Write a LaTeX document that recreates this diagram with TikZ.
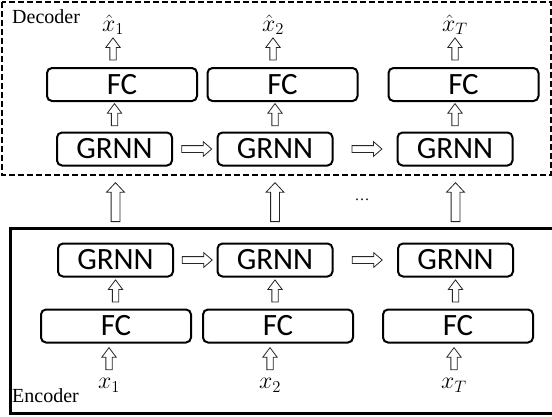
\documentclass[tikz,border=0pt]{standalone}
\usepackage{fontspec}
\setmainfont{Liberation Serif}
\newfontfamily\boxfont{Carlito}
\usetikzlibrary{positioning}
\usetikzlibrary{shapes.arrows}

\newcommand{\mlab}[1]{\scalebox{1.15}{$#1$}}

\tikzset{
  blk/.style={draw,line width=2pt,rounded corners=5pt,inner sep=0pt,
    font=\boxfont\fontsize{31}{31}\selectfont},
  grnn/.style={blk,minimum width=115pt,minimum height=33pt},
  fc/.style={blk,minimum width=150pt,minimum height=33pt},
  lbl/.style={inner sep=0pt,font=\fontsize{20}{24}\selectfont},
  hollow/.style={shape=single arrow,draw=black!85,fill=white,line width=0.8pt,inner sep=0pt},
  uparr/.style={hollow,rotate=90,minimum height=22pt,inner ysep=2.75pt,
    single arrow head extend=4pt,single arrow tip angle=74},
  bigup/.style={hollow,rotate=90,minimum height=39pt,inner ysep=4pt,
    single arrow head extend=4.5pt,single arrow tip angle=86},
  rarr/.style={hollow,minimum height=30pt,inner ysep=3pt,
    single arrow head extend=4pt,single arrow tip angle=82}
}

\begin{document}
\begin{tikzpicture}[x=1pt,y=-1pt,on grid]
\useasboundingbox (0,0) rectangle (552,416);

% decoder
\draw[line width=2.2pt,dash pattern=on 6pt off 3pt] (2,2) rectangle (551,175);
\node[lbl,anchor=base west] (dec) at (12,23) {Decoder};

\node[grnn] (dg1) at (114.5,149) {GRNN};
\node[grnn] (dg2) [right=160.5pt of dg1] {GRNN};
\node[grnn] (dg3) [right=180pt of dg2] {GRNN};

\node[fc] (df1) at (122,84.5) {FC};
\node[fc] (df2) [right=160.5pt of df1] {FC};
\node[fc] (df3) [right=181pt of df2] {FC};

\node[lbl,anchor=south] (xh1) at (113,35) {\mlab{\hat{x}_1}};
\node[lbl,anchor=south] (xh2) at (273,35) {\mlab{\hat{x}_2}};
\node[lbl,anchor=south] (xhT) at (455,35) {\mlab{\hat{x}_T}};

\path (dg1.north) -- (dg1.north |- df1.south) node[midway,uparr] (da1) {};
\path (dg2.north) -- (dg2.north |- df2.south) node[midway,uparr] (da2) {};
\path (dg3.north) -- (dg3.north |- df3.south) node[midway,uparr] (da3) {};

\path (xh1.south |- df1.north) -- (xh1.south) node[midway,uparr] (db1) {};
\path (xh2.south |- df2.north) -- (xh2.south) node[midway,uparr] (db2) {};
\path (xhT.south |- df3.north) -- (xhT.south) node[midway,uparr] (db3) {};

\path (dg1.east) -- (dg2.west) node[midway,rarr] (dr1) {};
\path (dg2.east) -- (dg3.west) node[midway,rarr] (dr2) {};

% encoder
\draw[line width=3pt] (10,228) rectangle (554,413);
\node[lbl,anchor=base west] (enc) at (12,402) {Encoder};

\node[grnn] (eg1) at (115.5,260) {GRNN};
\node[grnn] (eg2) [right=159.5pt of eg1] {GRNN};
\node[grnn] (eg3) [right=180.5pt of eg2] {GRNN};

\node[fc] (ef1) at (116,326) {FC};
\node[fc] (ef2) [right=162pt of ef1] {FC};
\node[fc] (ef3) [right=180pt of ef2] {FC};

\node[lbl,anchor=north] (x1) at (109,378) {\mlab{x_1}};
\node[lbl,anchor=north] (x2) at (270,378) {\mlab{x_2}};
\node[lbl,anchor=north] (xT) at (454,378) {\mlab{x_T}};

\path (x1.north) -- (x1.north |- ef1.south) node[midway,uparr] (ea1) {};
\path (x2.north) -- (x2.north |- ef2.south) node[midway,uparr] (ea2) {};
\path (xT.north) -- (xT.north |- ef3.south) node[midway,uparr] (ea3) {};

\path (ef1.north -| eg1.south) -- (eg1.south) node[midway,uparr] (eb1) {};
\path (ef2.north -| eg2.south) -- (eg2.south) node[midway,uparr] (eb2) {};
\path (ef3.north -| eg3.south) -- (eg3.south) node[midway,uparr] (eb3) {};

\path (eg1.east) -- (eg2.west) node[midway,rarr] (er1) {};
\path (eg2.east) -- (eg3.west) node[midway,rarr] (er2) {};

% encoder to decoder
\path (eg1.north) -- (eg1.north |- dg1.south) node[midway,bigup] (ed1) {};
\path (eg2.north) -- (eg2.north |- dg2.south) node[midway,bigup] (ed2) {};
\path (eg3.north) -- (eg3.north |- dg3.south) node[midway,bigup] (ed3) {};
\node[font=\fontsize{15}{15}\selectfont] (dots) at (362,200) {\ldots};

\end{tikzpicture}
\end{document}
